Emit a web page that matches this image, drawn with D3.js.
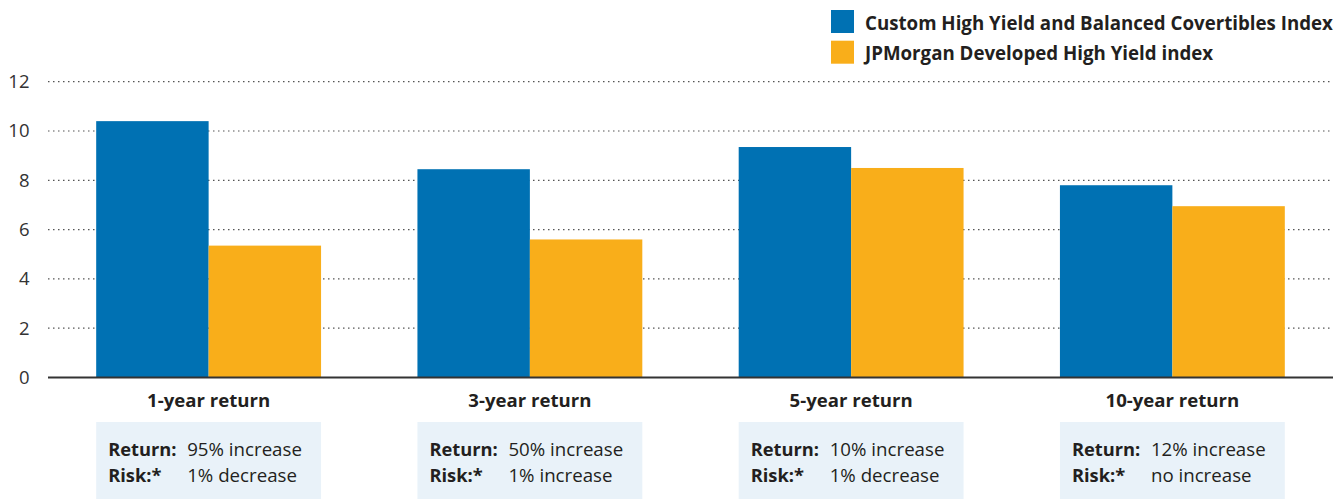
<!DOCTYPE html>
<html><head><meta charset="utf-8">
<script src="https://cdn.jsdelivr.net/npm/d3@7"></script>
<style>
html,body{margin:0;padding:0;background:#fff;}
text{font-family:"Open Sans",sans-serif;}
</style></head>
<body><svg id="c" width="1338" height="499"></svg>
<script>
const categories = ["1-year return","3-year return","5-year return","10-year return"];
const seriesNames = ["Custom High Yield and Balanced Covertibles Index","JPMorgan Developed High Yield index"];
const customIndex = [10.4, 8.45, 9.35, 7.8];
const jpmIndex = [5.35, 5.6, 8.5, 6.95];
const yTicks = [0,2,4,6,8,10,12];
const returnNotes = ["95% increase","50% increase","10% increase","12% increase"];
const riskNotes = ["1% decrease","1% increase","1% decrease","no increase"];
const colors = ["#0071b3","#f9ae1a"];

const svg = d3.select("#c");
const x0 = d3.scaleBand().domain(categories).range([48,1333]).paddingInner(0.3).paddingOuter(0.15);
const x1 = d3.scaleBand().domain([0,1]).range([0,x0.bandwidth()]);
const y = d3.scaleLinear().domain([0,12]).range([377.5,81.7]);

// gridlines
svg.append("g").selectAll("line").data(yTicks.filter(d=>d>0)).join("line")
  .attr("x1",48).attr("x2",1333).attr("y1",d=>y(d)).attr("y2",d=>y(d))
  .attr("stroke","#555").attr("stroke-width",1.2).attr("stroke-dasharray","1.5,3.5");

// y axis labels
const yAxis = d3.axisLeft(y).tickValues(yTicks).tickSize(0).tickPadding(0);
const ga = svg.append("g").attr("transform","translate(29.5,0)").call(yAxis);
ga.select(".domain").remove();
ga.selectAll("text").attr("font-size",18.5).attr("fill","#333").style("font-family","'Open Sans',sans-serif");

// bars
const data = categories.map((c,i)=>({c, v:[customIndex[i], jpmIndex[i]]}));
const groups = svg.append("g").selectAll("g").data(data).join("g")
  .attr("transform",d=>`translate(${x0(d.c)},0)`);
groups.selectAll("rect").data(d=>d.v.map((v,k)=>({v,k}))).join("rect")
  .attr("x",d=>x1(d.k)).attr("width",x1.bandwidth())
  .attr("y",d=>y(d.v)).attr("height",d=>y(0)-y(d.v))
  .attr("fill",d=>colors[d.k]);

// baseline
svg.append("line").attr("x1",48).attr("x2",1333).attr("y1",y(0)).attr("y2",y(0))
  .attr("stroke","#333").attr("stroke-width",2);

// category labels
svg.append("g").selectAll("text").data(categories).join("text")
  .attr("x",d=>x0(d)+x0.bandwidth()/2).attr("y",407)
  .attr("text-anchor","middle").attr("font-size",18.6).attr("font-weight","bold").attr("fill","#231f20")
  .text(d=>d);

// note boxes
const boxes = svg.append("g").selectAll("g").data(categories).join("g")
  .attr("transform",d=>`translate(${x0(d)},422)`);
boxes.append("rect").attr("width",x0.bandwidth()).attr("height",80).attr("fill","#e9f2f9");
boxes.append("text").attr("x",12).attr("y",34).attr("font-size",18.3).attr("font-weight","bold").attr("fill","#231f20").text("Return:");
boxes.append("text").attr("x",12).attr("y",59.5).attr("font-size",18.3).attr("font-weight","bold").attr("fill","#231f20").text("Risk:*");
boxes.append("text").attr("x",91).attr("y",34).attr("font-size",18.7).attr("fill","#231f20").text((d,i)=>returnNotes[i]);
boxes.append("text").attr("x",91).attr("y",59.5).attr("font-size",18.7).attr("fill","#231f20").text((d,i)=>riskNotes[i]);

// legend
const lg = svg.append("g").selectAll("g").data(seriesNames).join("g")
  .attr("transform",(d,i)=>`translate(831,${10+i*30.7})`);
lg.append("rect").attr("width",23).attr("height",23).attr("fill",(d,i)=>colors[i]);
lg.append("text").attr("x",34).attr("y",19.5).attr("font-size",18.7).attr("font-weight","bold").attr("fill","#231f20").text(d=>d);
</script></body></html>
